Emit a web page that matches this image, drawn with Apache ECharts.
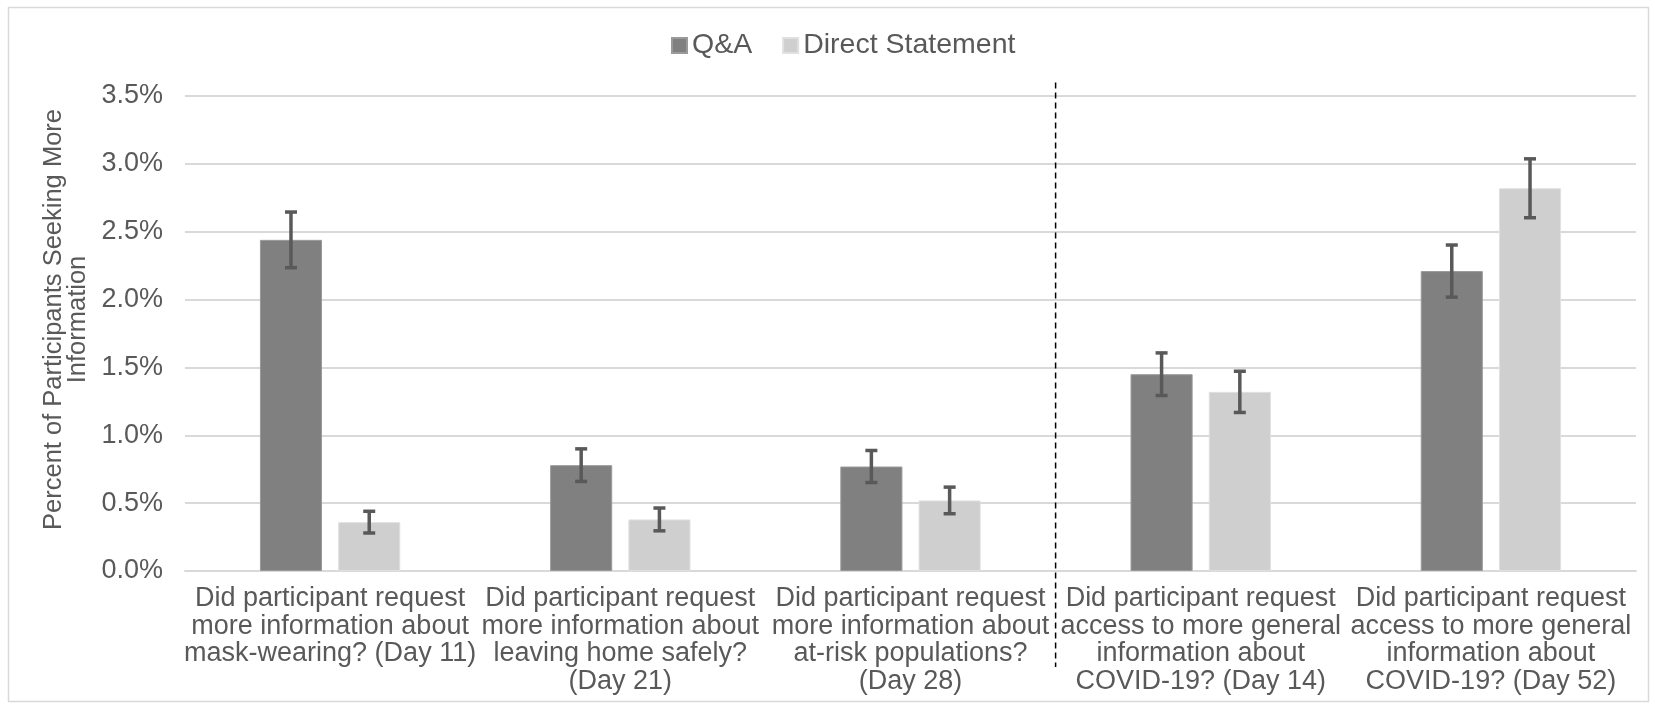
<!DOCTYPE html>
<html>
<head>
<meta charset="utf-8">
<script src="https://cdn.jsdelivr.net/npm/echarts@6/dist/echarts.min.js"></script>
<style>
  html, body { margin: 0; padding: 0; background: #fff; }
  #chart { width: 1655px; height: 705px; }
</style>
</head>
<body>
<div id="chart"></div>
<script>
// categories (x axis labels, wrapped as in the original)
var categories = [
  'Did participant request\nmore information about\nmask-wearing? (Day 11)',
  'Did participant request\nmore information about\nleaving home safely?\n(Day 21)',
  'Did participant request\nmore information about\nat-risk populations?\n(Day 28)',
  'Did participant request\naccess to more general\ninformation about\nCOVID-19? (Day 14)',
  'Did participant request\naccess to more general\ninformation about\nCOVID-19? (Day 52)'
];

// percent values
var qaValues = [2.44, 0.78, 0.77, 1.45, 2.21];
var dsValues = [0.36, 0.38, 0.52, 1.32, 2.82];

// error bar half widths (percent)
var qaErr = [0.205, 0.12, 0.118, 0.157, 0.192];
var dsErr = [0.08, 0.084, 0.098, 0.152, 0.217];

var seriesNames = ['Q&A', 'Direct Statement'];
var colors = ['#808080', '#d0cfcf'];

var textColor = '#595959';
var fontFamily = '"Liberation Sans", Arial, Helvetica, sans-serif';

var chart = echarts.init(document.getElementById('chart'));

// 误差线数据 [类别, 低, 高]
function errData(vals, errs) {
  var out = [];
  for (var i = 0; i < vals.length; i++) {
    out.push([i, vals[i] - errs[i], vals[i] + errs[i]]);
  }
  return out;
}

// 误差线绘制（偏移到对应柱子中心）
function errRender(seriesIdx) {
  return function (params, api) {
    var x = api.value(0);
    var lo = api.coord([x, api.value(1)]);
    var hi = api.coord([x, api.value(2)]);
    var band = api.size([1, 0])[0];
    var barW = band * 0.214;
    var gap = barW * 0.26;
    var off = (barW + gap) / 2 * (seriesIdx === 0 ? -1 : 1);
    var cx = lo[0] + off;
    var cap = 6;
    var style = { stroke: '#595959', lineWidth: 3.5 };
    return {
      type: 'group',
      children: [
        { type: 'line', shape: { x1: cx, y1: lo[1], x2: cx, y2: hi[1] }, style: style },
        { type: 'line', shape: { x1: cx - cap, y1: lo[1], x2: cx + cap, y2: lo[1] }, style: style },
        { type: 'line', shape: { x1: cx - cap, y1: hi[1], x2: cx + cap, y2: hi[1] }, style: style }
      ]
    };
  };
}

var option = {
  animation: false,
  backgroundColor: '#fff',
  textStyle: { fontFamily: fontFamily },
  legend: {
    top: 26,
    left: 666,
    itemWidth: 15,
    itemHeight: 15,
    itemGap: 30,
    itemTextGap: 5,
    icon: 'rect',
    data: seriesNames,
    textStyle: { fontSize: 28.5, color: textColor, fontFamily: fontFamily }
  },
  grid: {
    left: 185,
    right: 19,
    top: 96,
    bottom: 134
  },
  xAxis: {
    type: 'category',
    data: categories,
    axisTick: { show: false },
    axisLine: { lineStyle: { color: '#d9d9d9', width: 2 } },
    axisLabel: {
      interval: 0,
      color: textColor,
      fontSize: 27,
      lineHeight: 27.5,
      margin: 14,
      fontFamily: fontFamily
    }
  },
  yAxis: {
    type: 'value',
    min: 0,
    max: 3.5,
    interval: 0.5,
    name: 'Percent of Participants Seeking More\nInformation',
    nameLocation: 'middle',
    nameGap: 90,
    nameRotate: 90,
    nameTextStyle: { color: textColor, fontSize: 25.5, lineHeight: 24, fontFamily: fontFamily, padding: [0, 0, 0, 28] },
    axisLine: { show: false },
    axisTick: { show: false },
    splitLine: { lineStyle: { color: '#d9d9d9', width: 2 } },
    axisLabel: {
      color: textColor,
      fontSize: 27,
      margin: 22,
      fontFamily: fontFamily,
      formatter: function (v) { return v.toFixed(1) + '%'; }
    }
  },
  series: [
    {
      name: seriesNames[0],
      type: 'bar',
      data: qaValues,
      barWidth: '21.4%',
      barGap: '26%',
      itemStyle: { color: colors[0], borderColor: '#9a9a9a', borderWidth: 1 }
    },
    {
      name: seriesNames[1],
      type: 'bar',
      data: dsValues,
      barWidth: '21.4%',
      barGap: '26%',
      itemStyle: { color: colors[1], borderColor: '#e0e0e0', borderWidth: 1 }
    },
    {
      type: 'custom',
      data: errData(qaValues, qaErr),
      renderItem: errRender(0),
      encode: { x: 0, y: [1, 2] },
      z: 10
    },
    {
      type: 'custom',
      data: errData(dsValues, dsErr),
      renderItem: errRender(1),
      encode: { x: 0, y: [1, 2] },
      z: 10
    }
  ]
};

chart.setOption(option);

// 外框和分隔虚线
function drawExtras() {
  var p0 = chart.convertToPixel({ gridIndex: 0 }, [2, 0]);
  var p1 = chart.convertToPixel({ gridIndex: 0 }, [3, 0]);
  var top = chart.convertToPixel({ gridIndex: 0 }, [0, 3.6]);
  var xDiv = (p0[0] + p1[0]) / 2;
  chart.setOption({
    graphic: [
      {
        type: 'rect',
        shape: { x: 8.5, y: 7.5, width: 1640, height: 694 },
        style: { fill: null, stroke: '#d9d9d9', lineWidth: 1.5 },
        silent: true
      },
      {
        type: 'line',
        shape: { x1: xDiv, y1: top[1], x2: xDiv, y2: 667 },
        style: { stroke: '#000', lineWidth: 1.5, lineDash: [6, 4] },
        silent: true,
        z: 100
      }
    ]
  });
}
drawExtras();
</script>
</body>
</html>
